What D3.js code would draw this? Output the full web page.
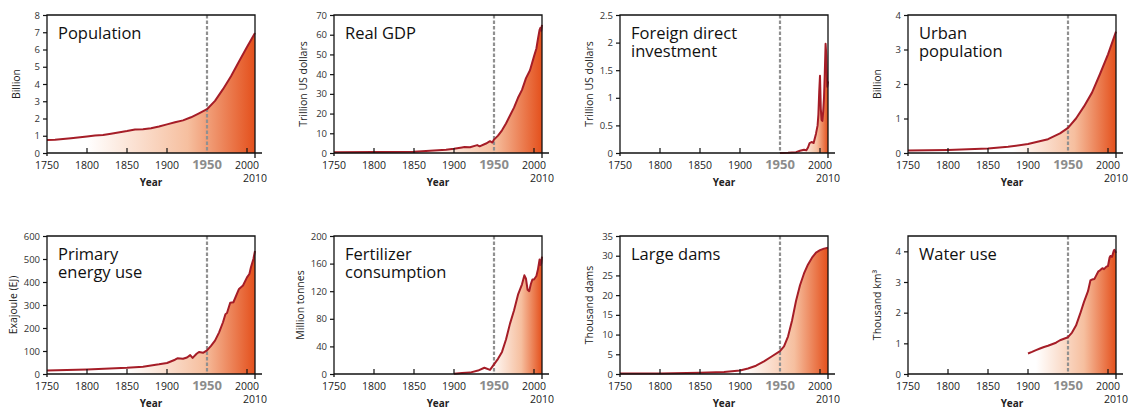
<!DOCTYPE html>
<html>
<head>
<meta charset="utf-8">
<script src="https://cdn.jsdelivr.net/npm/d3@7"></script>
<style>
body { margin: 0; background: #fff; }
text { font-family: "Open Sans", sans-serif; }
</style>
</head>
<body>
<svg id="chart" width="1133" height="411"></svg>
<script>
// x axis
const xTickYears = [1750, 1800, 1850, 1900, 1950, 2000];
const endYear = 2010;

// series (year / value pairs)
const popYears = [1750,1760,1780,1800,1810,1820,1830,1850,1860,1870,1880,1890,1900,1910,1920,1930,1940,1950,1960,1970,1980,1990,2000,2010];
const popValues = [0.76,0.77,0.86,0.96,1.02,1.05,1.12,1.27,1.36,1.38,1.44,1.54,1.66,1.78,1.89,2.07,2.3,2.54,3.02,3.7,4.45,5.3,6.15,6.95];

const gdpYears = [1750,1800,1850,1870,1880,1890,1900,1910,1913,1920,1929,1932,1940,1945,1948,1950,1955,1960,1965,1970,1975,1980,1985,1990,1995,2000,2003,2005,2007,2008,2009,2010];
const gdpValues = [0.4,0.5,0.6,1.1,1.4,1.7,2.2,2.8,3.0,2.9,4.0,3.4,4.8,6.0,5.3,6.8,8.8,11.5,15,19,23,28,32,38,42,49,53,58,62.5,63.5,62,65];

const fdiYears = [1950,1960,1970,1975,1980,1983,1985,1987,1990,1992,1995,1997,1998,1999,2000,2001,2002,2003,2004,2005,2006,2007,2008,2009,2010];
const fdiValues = [0,0.005,0.015,0.04,0.06,0.05,0.1,0.18,0.2,0.18,0.35,0.5,0.7,1.1,1.4,0.8,0.6,0.58,0.75,1.0,1.45,1.98,1.75,1.2,1.3];

const urbanYears = [1750,1800,1850,1875,1900,1925,1940,1950,1960,1970,1980,1990,2000,2010];
const urbanValues = [0.07,0.09,0.13,0.18,0.26,0.4,0.57,0.73,1.0,1.35,1.75,2.29,2.86,3.52];

const energyYears = [1750,1800,1850,1870,1880,1890,1900,1910,1913,1920,1925,1929,1932,1937,1940,1945,1950,1955,1960,1965,1970,1973,1975,1979,1983,1990,1995,2000,2003,2005,2008,2010];
const energyValues = [15,20,27,32,37,42,48,62,68,66,72,82,70,88,96,92,103,122,145,180,225,260,265,310,312,370,385,420,435,465,500,535];

const fertYears = [1900,1910,1920,1930,1938,1945,1950,1955,1960,1965,1970,1975,1980,1985,1988,1990,1992,1994,1996,1998,2000,2003,2005,2007,2008,2009,2010];
const fertValues = [0.5,1.5,2,5,9,6,14,22,32,50,73,92,115,130,143,138,122,120,130,137,137,142,152,166,158,160,170];

const damYears = [1750,1800,1850,1880,1900,1910,1920,1930,1940,1950,1955,1960,1965,1970,1975,1980,1985,1990,1995,2000,2005,2010];
const damValues = [0.1,0.15,0.3,0.5,0.9,1.4,2.1,3.2,4.5,5.8,7.0,9.5,13.5,18.5,22.5,25.5,27.8,29.5,30.8,31.4,31.8,32];

const waterYears = [1900,1905,1910,1915,1920,1925,1930,1935,1940,1945,1950,1955,1960,1965,1970,1975,1978,1980,1983,1985,1988,1990,1993,1995,1998,2000,2002,2003,2005,2007,2008,2010];
const waterValues = [0.67,0.72,0.78,0.83,0.88,0.92,0.97,1.02,1.1,1.15,1.2,1.35,1.58,1.95,2.35,2.7,3.05,3.08,3.1,3.2,3.35,3.38,3.45,3.42,3.5,3.52,3.8,3.85,3.82,4.0,4.05,3.95];

// panel titles, axis labels and y ticks
const titles = [["Population"], ["Real GDP"], ["Foreign direct", "investment"], ["Urban", "population"],
                ["Primary", "energy use"], ["Fertilizer", "consumption"], ["Large dams"], ["Water use"]];
const yLabels = ["Billion", "Trillion US dollars", "Trillion US dollars", "Billion",
                 "Exajoule (EJ)", "Million tonnes", "Thousand dams", "Thousand km³"];
const yMaxes = [8, 70, 2.5, 4, 600, 200, 35, 4.5];
const yTickLists = [
  [0,1,2,3,4,5,6,7,8], [0,10,20,30,40,50,60,70], [0,0.5,1,1.5,2,2.5], [0,1,2,3,4],
  [0,100,200,300,400,500,600], [0,40,80,120,160,200], [0,5,10,15,20,25,30,35], [0,1,2,3,4]
];
const seriesYears = [popYears, gdpYears, fdiYears, urbanYears, energyYears, fertYears, damYears, waterYears];
const seriesValues = [popValues, gdpValues, fdiValues, urbanValues, energyValues, fertValues, damValues, waterValues];
// year where the orange fade starts for each panel
const fadeFrom = [1800, 1860, 1975, 1880, 1850, 1945, 1905, 1910];

const lefts = [47, 334, 620, 908];
const tops = [15, 236];
const pw = 208, ph = 138;

const svg = d3.select("#chart");
const defs = svg.append("defs");

seriesYears.forEach((years, i) => {
  const left = lefts[i % 4];
  const top = tops[Math.floor(i / 4)];
  const data = years.map((yr, k) => ({year: yr, value: seriesValues[i][k]}));

  const x = d3.scaleLinear().domain([1750, endYear]).range([0, pw]);
  const y = d3.scaleLinear().domain([0, yMaxes[i]]).range([ph, 0]);

  const g = svg.append("g").attr("transform", `translate(${left},${top})`);

  // gradient fill
  const gid = "fade" + i;
  const grad = defs.append("linearGradient")
    .attr("id", gid)
    .attr("gradientUnits", "userSpaceOnUse")
    .attr("x1", x(fadeFrom[i])).attr("x2", x(endYear))
    .attr("y1", 0).attr("y2", 0);
  grad.append("stop").attr("offset", 0).attr("stop-color", "#ffffff");
  grad.append("stop").attr("offset", 0.6).attr("stop-color", "#f6bf9f");
  grad.append("stop").attr("offset", 1).attr("stop-color", "#e4501c");

  g.append("path")
    .datum(data)
    .attr("fill", `url(#${gid})`)
    .attr("d", d3.area().x(d => x(d.year)).y0(y(0)).y1(d => y(d.value)));

  // 1950 marker
  g.append("line")
    .attr("x1", x(1950)).attr("x2", x(1950))
    .attr("y1", 0).attr("y2", ph)
    .attr("stroke", "#909090").attr("stroke-width", 2.2)
    .attr("stroke-dasharray", "3.5,2");

  // data line
  g.append("path")
    .datum(data)
    .attr("fill", "none")
    .attr("stroke", "#a51d27")
    .attr("stroke-width", 2)
    .attr("stroke-linejoin", "round")
    .attr("d", d3.line().x(d => x(d.year)).y(d => y(d.value)));

  // frame
  g.append("path")
    .attr("d", `M0,${ph}V0H${x(endYear)}V${ph + 5}`)
    .attr("fill", "none").attr("stroke", "#111").attr("stroke-width", 1.3);
  g.append("line")
    .attr("x1", 0).attr("x2", x(endYear) + 7)
    .attr("y1", ph).attr("y2", ph)
    .attr("stroke", "#111").attr("stroke-width", 1.3);

  // x ticks (inward) and labels
  g.selectAll(".xt")
    .data(xTickYears.filter(d => d !== 1750 && d !== 1950))
    .enter().append("line")
    .attr("x1", d => x(d)).attr("x2", d => x(d))
    .attr("y1", ph).attr("y2", ph - 5)
    .attr("stroke", "#111").attr("stroke-width", 1.2);
  g.append("line")
    .attr("x1", 0).attr("x2", 0).attr("y1", ph).attr("y2", ph + 3)
    .attr("stroke", "#111").attr("stroke-width", 1.3);

  g.selectAll(".xl")
    .data(xTickYears)
    .enter().append("text")
    .attr("x", d => x(d))
    .attr("y", ph + 16)
    .attr("text-anchor", "middle")
    .attr("font-size", d => d === 1950 ? 13 : 10.5)
    .attr("font-weight", d => d === 1950 ? "bold" : "normal")
    .attr("fill", d => d === 1950 ? "#8c8c8c" : "#222")
    .text(d => d);
  g.append("text")
    .attr("x", x(endYear)).attr("y", ph + 29)
    .attr("text-anchor", "middle").attr("font-size", 10.5).attr("fill", "#222")
    .text(endYear);
  g.append("text")
    .attr("x", pw / 2).attr("y", ph + 33)
    .attr("text-anchor", "middle").attr("font-size", 10).attr("font-weight", "bold")
    .attr("fill", "#222")
    .text("Year");

  // y axis
  const yAxis = d3.axisLeft(y).tickValues(yTickLists[i]).tickFormat(d => String(d)).tickSize(4).tickPadding(3);
  const ya = g.append("g").call(yAxis);
  ya.select(".domain").remove();
  ya.selectAll("line").attr("stroke", "#111").attr("stroke-width", 1.2);
  ya.selectAll("text").attr("font-size", 9.5).attr("fill", "#333").style("font-family", '"Open Sans", sans-serif');

  const labelOffset = yMaxes[i] >= 100 ? -34 : -31;
  g.append("text")
    .attr("transform", `translate(${labelOffset},${ph / 2}) rotate(-90)`)
    .attr("text-anchor", "middle")
    .attr("dy", "0.35em")
    .attr("font-size", 10.5)
    .attr("fill", "#222")
    .text(yLabels[i]);

  // title (one text element, one tspan per line)
  const title = g.append("text")
    .attr("x", 11)
    .attr("y", 24)
    .attr("font-size", 16.5)
    .attr("fill", "#111");
  title.selectAll("tspan")
    .data(titles[i])
    .enter().append("tspan")
    .attr("x", 11)
    .attr("dy", (d, k) => k === 0 ? 0 : 18)
    .text(d => d);
});
</script>
</body>
</html>
